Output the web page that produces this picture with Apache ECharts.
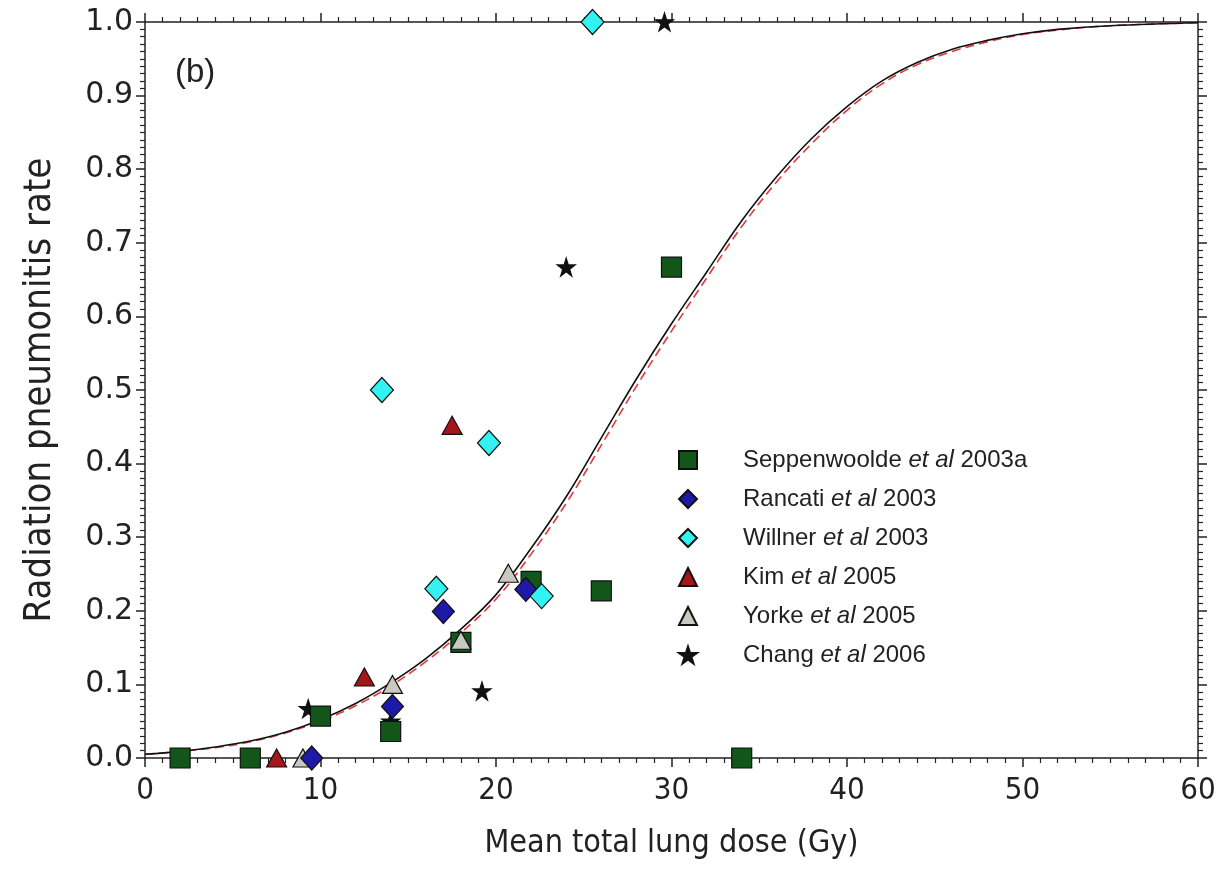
<!DOCTYPE html>
<html>
<head>
<meta charset="utf-8">
<script src="https://cdn.jsdelivr.net/npm/echarts@6/dist/echarts.min.js"></script>
<style>
html,body{margin:0;padding:0;background:#fff;}
#chart{width:1224px;height:875px;}
</style>
</head>
<body>
<div id="chart"></div>
<script>
// ---- data ----
const curveDose  = [0,2,4,6,8,10,12,14,16,18,20,22,24,26,28,30,32,34,36,38,40,42,44,46,48,50,52,55,60];
const curveBlack = [0.005,0.009,0.015,0.023,0.035,0.052,0.074,0.102,0.135,0.175,0.222,0.285,0.355,0.435,0.515,0.59,0.66,0.73,0.79,0.842,0.885,0.92,0.945,0.963,0.975,0.984,0.99,0.995,0.999];
const curveRed   = [0.005,0.009,0.014,0.022,0.034,0.050,0.071,0.098,0.131,0.170,0.216,0.277,0.346,0.425,0.505,0.58,0.652,0.722,0.783,0.835,0.880,0.916,0.942,0.960,0.973,0.983,0.989,0.995,0.999];

const seppX = [2,6,10,14,18,22,26,30,34];
const seppY = [0,0,0.057,0.036,0.157,0.24,0.227,0.667,0];
const rancX = [9.5,14.1,17.0,21.7];
const rancY = [0,0.07,0.199,0.229];
const willX = [13.5,16.6,19.6,22.6,25.5];
const willY = [0.5,0.23,0.428,0.22,1.0];
const kimX  = [7.5,12.5,17.5];
const kimY  = [0,0.11,0.452];
const yorkX = [9.0,14.1,18.0,20.7];
const yorkY = [0,0.10,0.16,0.251];
const chX   = [9.3,14.0,19.2,24.0,29.6];
const chY   = [0.067,0.05,0.091,0.667,1.0];

const seriesNames = ['Seppenwoolde et al 2003a','Rancati et al 2003','Willner et al 2003','Kim et al 2005','Yorke et al 2005','Chang et al 2006'];
const xTicks = [0,10,20,30,40,50,60];

// ---- build ----
const pairs = (xs, ys) => xs.map((x, i) => [x, ys[i]]);
const starPath = 'path://M50,0 L61.2,34.5 L97.6,34.5 L68.2,55.9 L79.4,90.5 L50,69.1 L20.6,90.5 L31.8,55.9 L2.4,34.5 L38.8,34.5 Z';
const narrow = '"Liberation Sans Narrow","DejaVu Sans Condensed","Liberation Sans",sans-serif';
const reg = '"Liberation Sans",Arial,sans-serif';
const wide = '"DejaVu Sans","Liberation Sans",sans-serif';

const chart = echarts.init(document.getElementById('chart'), null, {renderer:'canvas'});
const axisLineStyle = {color:'#222', width:1.5};

function scatter(name, data, symbol, size, color, z) {
  return {
    name, type:'scatter', data, symbol, symbolSize:size, z,
    itemStyle:{color, borderColor:'#111', borderWidth:1.2, opacity:1},
    emphasis:{disabled:true}
  };
}

const option = {
  animation:false,
  backgroundColor:'#fff',
  grid:{left:145, right:26, top:22, bottom:117, containLabel:false},
  xAxis:[{
    type:'value', min:0, max:60, interval:10, position:'bottom',
    name:'Mean total lung dose (Gy)', nameLocation:'middle', nameGap:70,
    nameTextStyle:{fontFamily:narrow, fontSize:32, color:'#222'},
    axisLine:{show:true, onZero:false, lineStyle:axisLineStyle},
    axisTick:{show:true, inside:false, length:9, lineStyle:axisLineStyle},
    minorTick:{show:true, splitNumber:10, length:5, lineStyle:{color:'#222', width:1.2}},
    axisLabel:{show:true, margin:17, fontFamily:narrow, fontSize:31, color:'#222',
      customValues: xTicks},
    splitLine:{show:false}
  },{
    type:'value', min:0, max:60, interval:10, position:'top',
    axisLine:{show:true, onZero:false, lineStyle:axisLineStyle},
    axisTick:{show:true, inside:false, length:9, lineStyle:axisLineStyle},
    minorTick:{show:true, splitNumber:10, length:5, lineStyle:{color:'#222', width:1.2}},
    axisLabel:{show:false}, splitLine:{show:false}
  }],
  yAxis:[{
    type:'value', min:0, max:1, interval:0.1, position:'left',
    name:'Radiation pneumonitis rate', nameLocation:'middle', nameGap:86, nameRotate:90,
    nameTextStyle:{fontFamily:narrow, fontSize:38, color:'#222'},
    axisLine:{show:true, onZero:false, lineStyle:axisLineStyle},
    axisTick:{show:true, inside:false, length:9, lineStyle:axisLineStyle},
    minorTick:{show:true, splitNumber:10, length:5, lineStyle:{color:'#222', width:1.2}},
    axisLabel:{show:true, margin:12, fontFamily:wide, fontSize:30, color:'#222',
      formatter:v => v.toFixed(1)},
    splitLine:{show:false}
  },{
    type:'value', min:0, max:1, interval:0.1, position:'right',
    axisLine:{show:true, onZero:false, lineStyle:axisLineStyle},
    axisTick:{show:true, inside:false, length:9, lineStyle:axisLineStyle},
    minorTick:{show:true, splitNumber:10, length:5, lineStyle:{color:'#222', width:1.2}},
    axisLabel:{show:false}, splitLine:{show:false}
  }],
  legend:{
    orient:'vertical', left:673, top:443, itemGap:15, itemWidth:18, itemHeight:18,
    data: seriesNames,
    formatter: n => {
      const parts = n.split(' et al ');
      return '{n|' + parts[0] + ' }{i|et al}{n| ' + parts[1] + '}';
    },
    textStyle:{
      color:'#222', fontFamily:reg, fontSize:24, padding:[0,0,0,41],
      rich:{
        n:{fontFamily:reg, fontSize:24, color:'#222'},
        i:{fontFamily:reg, fontSize:24, color:'#222', fontStyle:'italic'}
      }
    },
    selectedMode:false
  },
  graphic:[{
    type:'text', left:175, top:56,
    style:{text:'(b)', fontFamily:reg, fontSize:33, fill:'#222'}
  }],
  series:[
    {name:'fit-red', type:'line', data:pairs(curveDose, curveRed), smooth:0.4,
     symbol:'none', z:1, lineStyle:{color:'#e0393e', width:1.6, type:[9,5]}, emphasis:{disabled:true}},
    {name:'fit-black', type:'line', data:pairs(curveDose, curveBlack), smooth:0.4,
     symbol:'none', z:1, lineStyle:{color:'#111', width:1.6}, emphasis:{disabled:true}},
    scatter(seriesNames[0], pairs(seppX, seppY), 'rect', 20, '#13561a', 3),
    scatter(seriesNames[1], pairs(rancX, rancY), 'diamond', [22,24], '#1c1aa6', 5),
    scatter(seriesNames[2], pairs(willX, willY), 'diamond', [23,25], '#33f2f2', 6),
    scatter(seriesNames[3], pairs(kimX, kimY), 'triangle', [20,18], '#a5151a', 5),
    scatter(seriesNames[4], pairs(yorkX, yorkY), 'triangle', [20,18], '#c9c9c1', 4),
    scatter(seriesNames[5], pairs(chX, chY), starPath, 18, '#111', 2)
  ]
};
chart.setOption(option);
</script>
</body>
</html>
